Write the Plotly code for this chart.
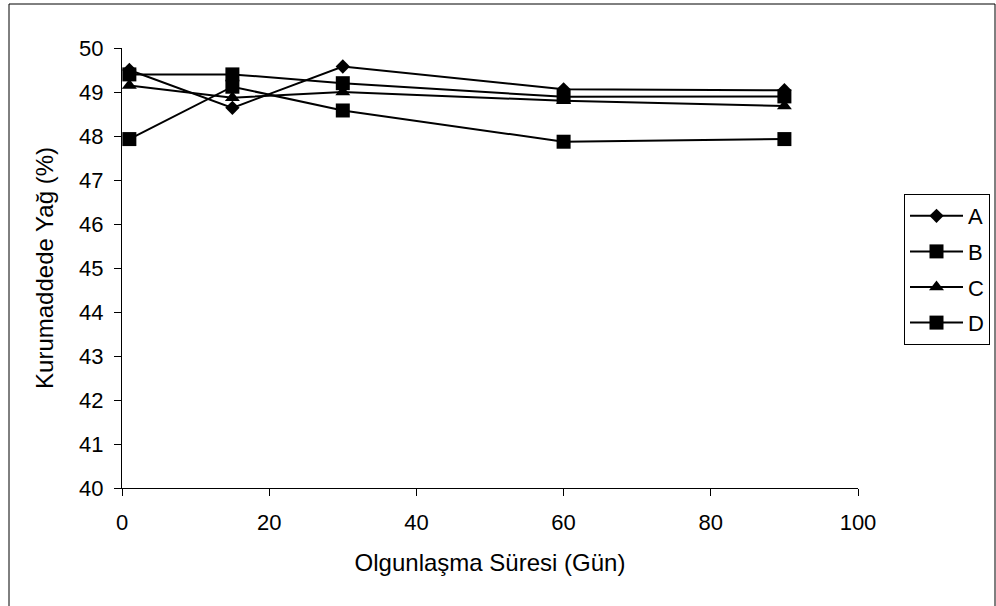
import plotly.graph_objects as go

# Ripening time (days) and dry-matter fat (%) for four cheese groups
days = [1, 15, 30, 60, 90]
fat_a = [49.50, 48.64, 49.58, 49.06, 49.04]
fat_b = [49.40, 49.40, 49.20, 48.89, 48.90]
fat_c = [49.15, 48.87, 49.00, 48.80, 48.68]
fat_d = [47.93, 49.12, 48.58, 47.87, 47.93]

series_names = ["A", "B", "C", "D"]
series_values = [fat_a, fat_b, fat_c, fat_d]
series_symbols = ["diamond", "square", "triangle-up", "square"]
series_sizes = [11, 14, 13, 14]

x_ticks = [0, 20, 40, 60, 80, 100]
y_ticks = list(range(40, 51))

FONT = "Liberation Sans, Arial, sans-serif"
TICK_SIZE = 22
TITLE_SIZE = 24

fig = go.Figure()
for name, vals, sym, size in zip(series_names, series_values, series_symbols, series_sizes):
    fig.add_trace(go.Scatter(
        x=days, y=vals, name=name, legendgroup=name, mode="lines+markers",
        line=dict(color="black", width=2),
        marker=dict(symbol=sym, size=size, color="black", line=dict(width=0)),
    ))

W, H = 996, 606
L, R, T, B = 122, 138, 48, 118
pw, ph = W - L - R, H - T - B

def px_x(p):
    return (p - L) / pw

def px_y(p):
    return (H - B - p) / ph

axis_common = dict(
    showgrid=False, zeroline=False, showline=True, linecolor="black", linewidth=1,
    ticks="outside", ticklen=7, tickcolor="black", tickwidth=1,
    tickfont=dict(family=FONT, size=TICK_SIZE, color="black"),
)

fig.update_layout(
    width=W, height=H,
    margin=dict(l=L, r=R, t=T, b=B, autoexpand=False),
    paper_bgcolor="white", plot_bgcolor="white",
    font=dict(family=FONT, size=TICK_SIZE, color="black"),
    showlegend=True,
    legend=dict(
        x=px_x(904), y=px_y(194), xanchor="left", yanchor="top",
        bordercolor="black", borderwidth=1, bgcolor="white",
        font=dict(family=FONT, size=TICK_SIZE, color="black"),
        tracegroupgap=4, itemwidth=53,
    ),
    xaxis=dict(
        range=[0, 100], tickvals=x_ticks, ticktext=[str(v) for v in x_ticks],
        ticklabelstandoff=8,
        title=dict(text="Olgunlaşma Süresi (Gün)",
                   font=dict(family=FONT, size=TITLE_SIZE, color="black"), standoff=19),
        **axis_common,
    ),
    yaxis=dict(
        range=[40, 50], tickvals=y_ticks, ticktext=[str(v) for v in y_ticks],
        ticklabelstandoff=6,
        title=dict(text="Kurumaddede Yağ (%)",
                   font=dict(family=FONT, size=TITLE_SIZE, color="black"), standoff=18),
        **axis_common,
    ),
    shapes=[
        dict(type="rect", xref="paper", yref="paper",
             x0=px_x(9), x1=px_x(995), y0=px_y(640), y1=px_y(4),
             line=dict(color="black", width=1), fillcolor="rgba(0,0,0,0)", layer="below"),
    ],
)

fig.write_html("out.html")
